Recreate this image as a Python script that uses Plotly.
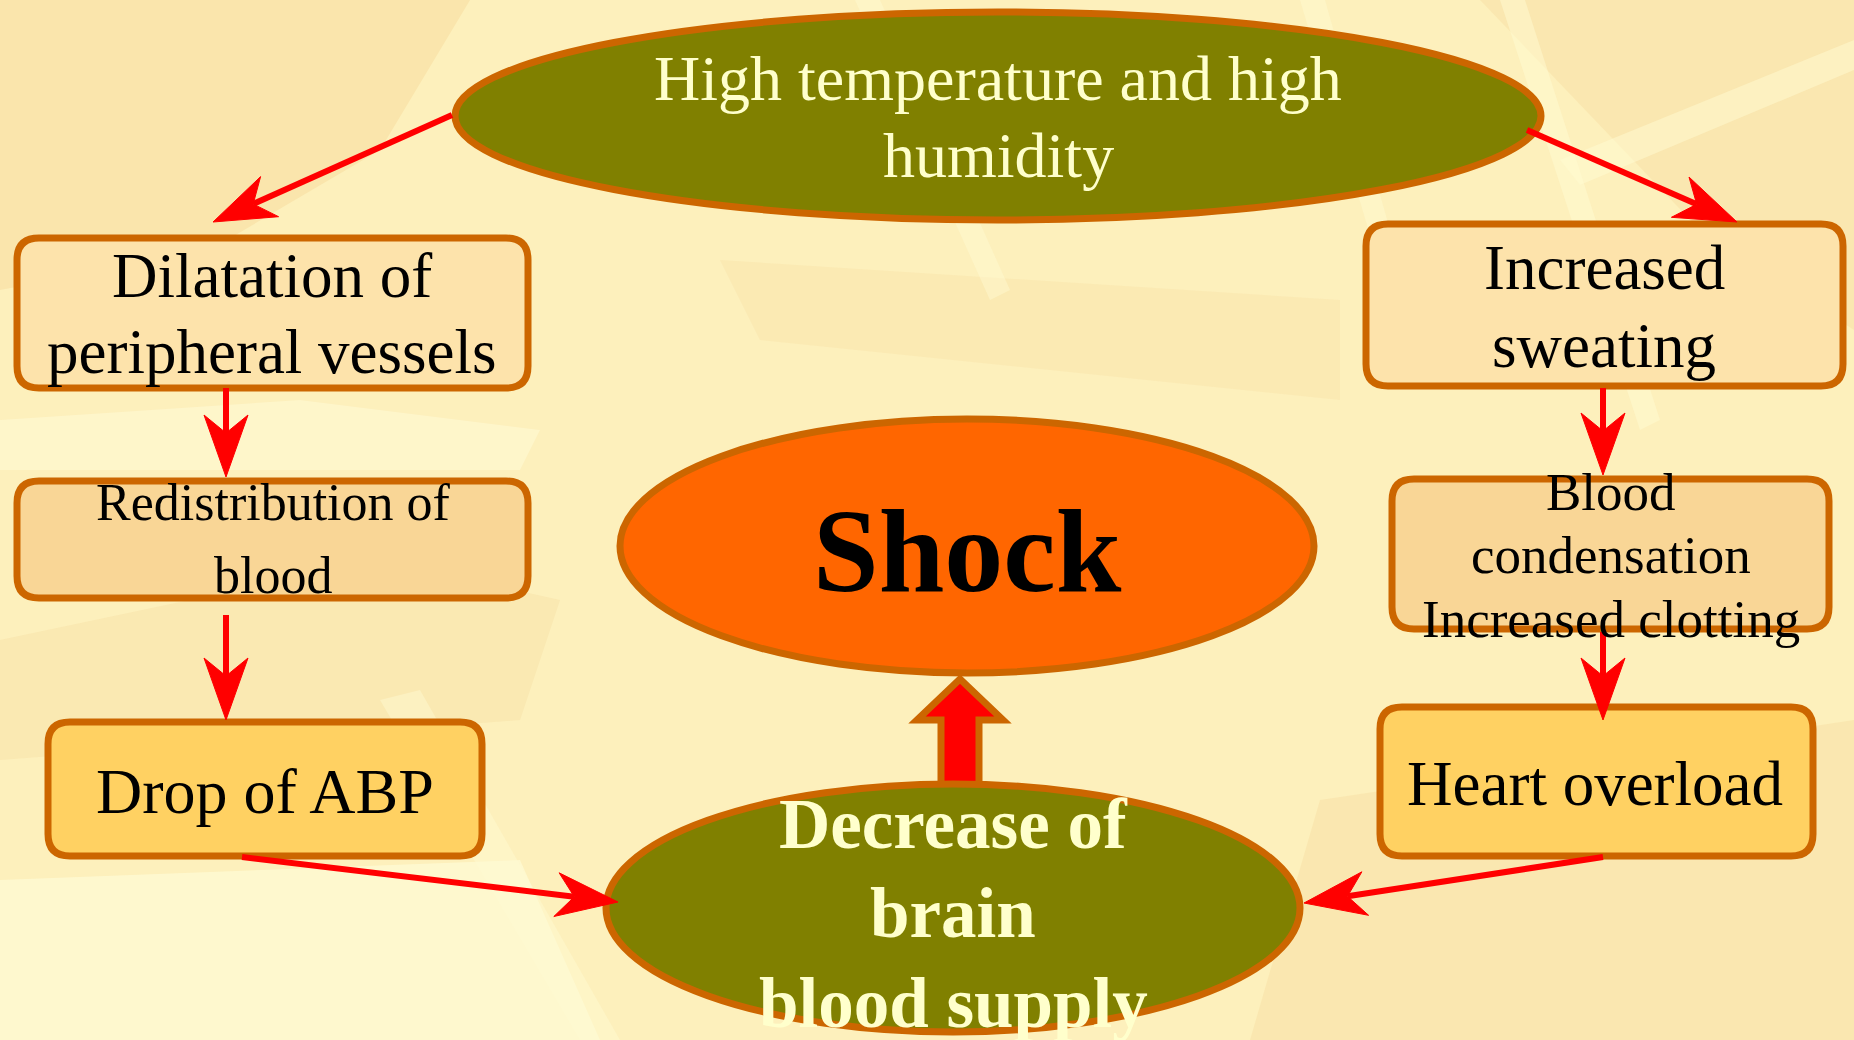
import math
import plotly.graph_objects as go

W, H = 1854, 1040

# ---------------- data ----------------
# ellipse nodes: label lines, centre, radii, fill, text colour, font size, bold, baselines
ELL_LINES = [
    ["High temperature and high", "humidity"],
    ["Shock"],
    ["Decrease of", "brain", "blood supply"],
]
ELL_CENTER = [(998, 116), (967, 546), (953, 908)]
ELL_RADII = [(543, 104), (347, 127), (347, 124)]
ELL_FILL = ["#808000", "#FF6600", "#808000"]
ELL_TEXT_COLOR = ["#FFFFCC", "#000000", "#FFFFCC"]
ELL_FONT = [64, 118, 71]
ELL_BOLD = [False, True, True]
ELL_BASELINES = [[100, 177], [591], [848, 937, 1027]]

# rectangular nodes
BOX_LINES = [
    ["Dilatation of", "peripheral vessels"],
    ["Redistribution of", "blood"],
    ["Drop of ABP"],
    ["Increased", "sweating"],
    ["Blood", "condensation", "Increased clotting"],
    ["Heart overload"],
]
BOX_X = [(17, 528), (17, 528), (48, 482), (1366, 1843), (1392, 1829), (1380, 1813)]
BOX_Y = [(238, 388), (481, 598), (722, 856), (224, 386), (479, 629), (707, 856)]
BOX_FILL = ["#FDE3AB", "#F9D696", "#FFD162", "#FDE3AB", "#F9D696", "#FFD162"]
BOX_FONT = [63, 52, 64, 63, 53, 63]
BOX_TEXT_X = [272, 273, 265, 1604, 1611, 1595]
BOX_BASELINES = [[297, 373], [520, 593], [813], [289, 367], [510, 573, 637], [805]]

# connector arrows (start -> tip)
ARROW_START = [(452, 115), (1527, 130), (226, 388), (226, 615), (1603, 388), (1603, 632), (242, 857), (1603, 857)]
ARROW_TIP = [(213, 222), (1737, 222), (226, 477), (226, 720), (1603, 475), (1603, 720), (618, 902), (1304, 903)]

# block arrow from "Decrease of brain blood supply" up to "Shock"
BLOCK_X = 960
BLOCK_Y = (787, 720, 679)   # shaft bottom, head base, tip
BLOCK_HALF = (19, 43)       # shaft half width, head half width

BORDER = "#CC6600"
RED = "#FF0000"
BG = "#FDF0BC"

# background texture polygons (colour, points)
BG_SHAPES = [
    ("rgba(244,212,148,0.40)", [(0, 0), (470, 0), (380, 150), (210, 250), (0, 290)]),
    ("rgba(244,212,148,0.30)", [(1480, 0), (1854, 0), (1854, 330), (1700, 230)]),
    ("rgba(244,212,148,0.30)", [(1320, 800), (1854, 720), (1854, 1040), (1250, 1040)]),
    ("rgba(244,212,148,0.22)", [(720, 260), (1340, 300), (1340, 400), (760, 340)]),
    ("rgba(244,212,148,0.25)", [(0, 640), (380, 560), (560, 600), (520, 720), (0, 760)]),
    ("rgba(255,252,215,0.65)", [(0, 880), (520, 860), (600, 1040), (0, 1040)]),
    ("rgba(255,252,215,0.50)", [(0, 420), (300, 400), (540, 430), (520, 470), (0, 470)]),
    ("rgba(255,251,210,0.45)", [(855, 0), (880, 0), (1010, 290), (990, 300)]),
    ("rgba(255,251,210,0.50)", [(1500, 0), (1525, 0), (1660, 420), (1640, 430)]),
    ("rgba(255,251,210,0.50)", [(1560, 160), (1854, 40), (1854, 70), (1580, 185)]),
    ("rgba(255,251,210,0.45)", [(1300, 0), (1325, 0), (1390, 230), (1370, 235)]),
    ("rgba(255,251,210,0.45)", [(380, 700), (420, 690), (620, 1040), (580, 1040)]),
]

# ---------------- figure ----------------
fig = go.Figure()
shapes = []


def poly_path(pts):
    return "M " + " L ".join(f"{x:.1f},{y:.1f}" for x, y in pts) + " Z"


for col, pts in BG_SHAPES:
    shapes.append(dict(type="path", path=poly_path(pts), fillcolor=col, line=dict(width=0), layer="below"))


def rounded_rect(x0, x1, y0, y1, r):
    return (f"M {x0+r},{y0} L {x1-r},{y0} Q {x1},{y0} {x1},{y0+r} L {x1},{y1-r} "
            f"Q {x1},{y1} {x1-r},{y1} L {x0+r},{y1} Q {x0},{y1} {x0},{y1-r} "
            f"L {x0},{y0+r} Q {x0},{y0} {x0+r},{y0} Z")


def ellipse(i):
    cx, cy = ELL_CENTER[i]
    rx, ry = ELL_RADII[i]
    return dict(type="circle", x0=cx - rx, x1=cx + rx, y0=cy - ry, y1=cy + ry,
                fillcolor=ELL_FILL[i], line=dict(color=BORDER, width=7))


shapes.append(ellipse(0))
for i in range(len(BOX_LINES)):
    shapes.append(dict(type="path", path=rounded_rect(BOX_X[i][0], BOX_X[i][1], BOX_Y[i][0], BOX_Y[i][1], 22),
                       fillcolor=BOX_FILL[i], line=dict(color=BORDER, width=7)))
shapes.append(ellipse(1))

# block arrow
sb, hb, tip = BLOCK_Y
sh, hh = BLOCK_HALF
block = [(BLOCK_X - sh, sb), (BLOCK_X - sh, hb), (BLOCK_X - hh, hb), (BLOCK_X, tip),
         (BLOCK_X + hh, hb), (BLOCK_X + sh, hb), (BLOCK_X + sh, sb)]
shapes.append(dict(type="path", path=poly_path(block), fillcolor=RED, line=dict(color=BORDER, width=7)))
shapes.append(ellipse(2))

# connector arrows with stealth heads
HEAD_L, HEAD_W, HEAD_NOTCH = 62, 22, 44
for (sx, sy), (tx, ty) in zip(ARROW_START, ARROW_TIP):
    dx, dy = tx - sx, ty - sy
    d = math.hypot(dx, dy)
    ux, uy = dx / d, dy / d
    nx, ny = -uy, ux
    notch = (tx - HEAD_NOTCH * ux, ty - HEAD_NOTCH * uy)
    shapes.append(dict(type="line", x0=sx, y0=sy, x1=notch[0], y1=notch[1], line=dict(color=RED, width=6)))
    head = [(tx, ty),
            (tx - HEAD_L * ux + HEAD_W * nx, ty - HEAD_L * uy + HEAD_W * ny),
            notch,
            (tx - HEAD_L * ux - HEAD_W * nx, ty - HEAD_L * uy - HEAD_W * ny)]
    shapes.append(dict(type="path", path=poly_path(head), fillcolor=RED, line=dict(color=RED, width=1)))

annotations = []


def add_lines(lines, xc, baselines, size, color, bold):
    for txt, b in zip(lines, baselines):
        t = f"<b>{txt}</b>" if bold else txt
        annotations.append(dict(x=xc, y=b - 0.3375 * size, text=t, showarrow=False,
                                xanchor="center", yanchor="middle",
                                font=dict(family="Liberation Serif", size=size, color=color)))


for i in range(len(ELL_LINES)):
    add_lines(ELL_LINES[i], ELL_CENTER[i][0], ELL_BASELINES[i], ELL_FONT[i], ELL_TEXT_COLOR[i], ELL_BOLD[i])
for i in range(len(BOX_LINES)):
    add_lines(BOX_LINES[i], BOX_TEXT_X[i], BOX_BASELINES[i], BOX_FONT[i], "#000000", False)

fig.update_layout(
    width=W, height=H, margin=dict(l=0, r=0, t=0, b=0),
    paper_bgcolor=BG, plot_bgcolor=BG,
    xaxis=dict(range=[0, W], visible=False, fixedrange=True),
    yaxis=dict(range=[H, 0], visible=False, fixedrange=True),
    shapes=shapes, annotations=annotations, showlegend=False,
)

fig.write_html("out.html", config={"displayModeBar": False, "staticPlot": True},
               post_script="document.body.style.margin='0';document.body.style.overflow='hidden';")
